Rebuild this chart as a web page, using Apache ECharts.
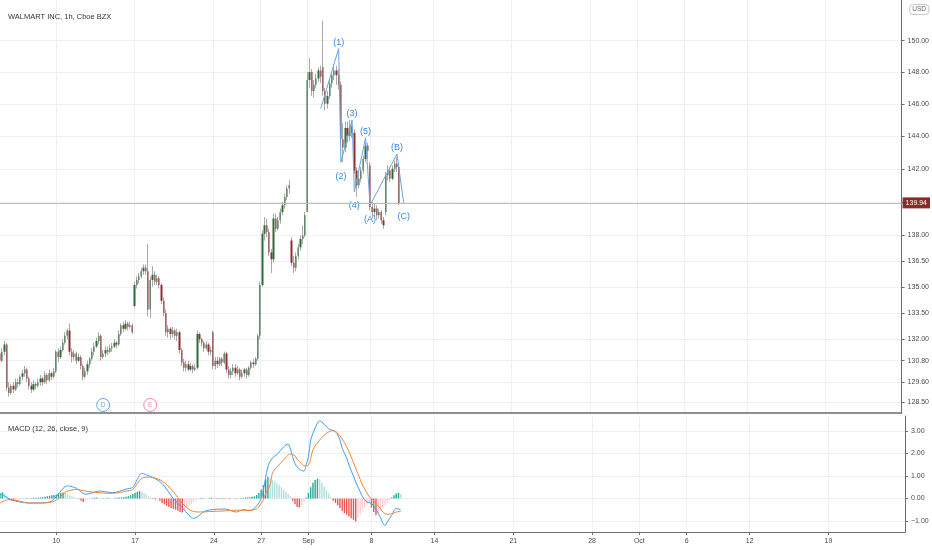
<!DOCTYPE html>
<html><head><meta charset="utf-8">
<script src="https://cdn.jsdelivr.net/npm/echarts@6/dist/echarts.min.js"></script>
<style>html,body{margin:0;padding:0;background:#fff}#c{width:932px;height:550px}</style>
</head><body><div id="c"></div>
<script>
// ---------- DATA ----------
const tradingDays = [
 '2020-08-04','2020-08-05','2020-08-06','2020-08-07','2020-08-10','2020-08-11','2020-08-12','2020-08-13','2020-08-14',
 '2020-08-17','2020-08-18','2020-08-19','2020-08-20','2020-08-21','2020-08-24','2020-08-25','2020-08-26','2020-08-27','2020-08-28',
 '2020-08-31','2020-09-01','2020-09-02','2020-09-03','2020-09-04','2020-09-08','2020-09-09','2020-09-10','2020-09-11',
 '2020-09-14','2020-09-15','2020-09-16','2020-09-17','2020-09-18','2020-09-21','2020-09-22','2020-09-23','2020-09-24','2020-09-25',
 '2020-09-28','2020-09-29','2020-09-30','2020-10-01','2020-10-02','2020-10-05','2020-10-06','2020-10-07','2020-10-08','2020-10-09',
 '2020-10-12','2020-10-13','2020-10-14','2020-10-15','2020-10-16','2020-10-19','2020-10-20','2020-10-21','2020-10-22','2020-10-23'
];
const sessionHours = ['09:30','10:30','11:30','12:30','13:30','14:30','15:30'];
const firstDayHours = ['12:30','13:30','14:30','15:30'];
const tickDates = ['2020-08-10','2020-08-17','2020-08-24','2020-08-27','2020-09-01','2020-09-08','2020-09-14','2020-09-21','2020-09-28','2020-10-01','2020-10-06','2020-10-12','2020-10-19'];
const tickTexts = ['10','17','24','27','Sep','8','14','21','28','Oct','6','12','19'];

const opens = [
 131.2,130.8,131.3,131.7,
 129.3,129.0,129.4,129.2,129.6,129.5,129.9,
 130.1,130.3,129.8,129.4,129.2,129.5,129.4,
 129.6,129.8,129.6,130.0,129.7,130.1,129.9,
 130.2,131.3,131.0,131.4,131.8,132.2,132.5,
 131.3,131.0,131.2,130.8,131.0,130.5,129.9,
 130.2,130.6,130.9,131.3,131.6,131.9,132.2,
 131.0,131.2,131.4,131.3,131.5,131.6,131.8,
 131.7,132.3,132.8,132.6,132.9,132.7,132.8,
 133.9,135.1,135.4,135.6,135.9,136.1,135.9,
 133.7,135.4,135.7,135.3,135.5,135.1,134.2,
 133.5,132.4,132.6,132.3,132.5,132.2,132.4,
 131.4,130.7,130.4,130.6,130.3,130.5,130.3,
 130.4,132.3,132.0,131.8,131.5,131.7,131.3,
 132.4,130.5,130.8,130.6,130.9,130.7,131.2,
 130.3,130.0,130.2,130.4,130.1,130.3,129.9,
 130.1,130.3,130.0,130.4,130.7,130.6,130.9,
 132.2,135.1,138.1,138.6,138.2,137.0,136.6,
 139.0,138.4,138.9,139.4,139.8,140.3,140.8,
 137.7,136.4,136.1,136.8,137.3,137.8,138.0,
 139.4,147.5,148.0,146.8,147.2,147.6,148.1,
 148.3,146.8,146.0,146.5,147.3,147.8,148.1,
 147.8,147.2,143.8,143.3,144.5,144.0,144.6,
 144.2,141.9,141.0,141.4,141.9,142.6,143.4,
 142.2,139.7,139.4,139.6,139.2,139.4,138.9,
 139.4,141.6,141.9,141.4,142.0,142.3,142.1
];
const closes = [
 130.8,131.3,131.7,129.3,
 129.0,129.4,129.2,129.6,129.5,129.9,130.1,
 130.3,129.8,129.4,129.2,129.5,129.4,129.6,
 129.8,129.6,130.0,129.7,130.1,129.9,130.2,
 131.3,131.0,131.4,131.8,132.2,132.5,131.3,
 131.0,131.2,130.8,131.0,130.5,129.9,130.2,
 130.6,130.9,131.3,131.6,131.9,132.2,131.0,
 131.2,131.4,131.3,131.5,131.6,131.8,131.7,
 132.3,132.8,132.6,132.9,132.7,132.8,132.4,
 135.1,135.4,135.6,135.9,136.1,135.9,133.7,
 135.4,135.7,135.3,135.5,135.1,134.2,133.5,
 132.4,132.6,132.3,132.5,132.2,132.4,131.4,
 130.7,130.4,130.6,130.3,130.5,130.3,130.4,
 132.3,132.0,131.8,131.5,131.7,131.3,131.4,
 130.5,130.8,130.6,130.9,130.7,131.2,130.3,
 130.0,130.2,130.4,130.1,130.3,129.9,130.1,
 130.3,130.0,130.4,130.7,130.6,130.9,132.2,
 135.1,138.1,138.6,138.2,137.0,136.6,139.0,
 138.4,138.9,139.4,139.8,140.3,140.8,141.0,
 136.4,136.1,136.8,137.3,137.8,138.0,139.2,
 147.5,148.0,146.8,147.2,147.6,148.1,147.7,
 146.8,146.0,146.5,147.3,147.8,148.1,147.8,
 147.2,143.8,143.3,144.5,144.0,144.6,144.2,
 141.9,141.0,141.4,141.9,142.6,143.4,143.1,
 139.7,139.4,139.6,139.2,139.4,138.9,138.6,
 141.6,141.9,141.4,142.0,142.3,142.1,139.94
];
const lows = [
 130.6,130.7,131.1,129.1,
 128.8,128.9,129.0,129.1,129.3,129.4,129.7,
 129.9,129.6,129.2,129.0,129.1,129.2,129.3,
 129.4,129.4,129.5,129.5,129.6,129.7,129.8,
 130.1,130.7,130.9,131.3,131.7,132.0,131.1,
 130.7,130.8,130.6,130.7,130.3,129.7,129.8,
 130.0,130.4,130.8,131.1,131.5,131.7,130.8,
 130.9,131.0,131.1,131.2,131.3,131.5,131.5,
 131.6,132.2,132.4,132.5,132.5,132.6,132.3,
 133.8,134.9,135.2,135.5,135.7,135.7,133.3,
 133.2,135.0,135.1,135.1,134.9,134.0,133.3,
 132.2,132.1,132.0,132.1,132.0,131.9,131.2,
 130.5,130.2,130.2,130.2,130.2,130.1,130.2,
 130.3,131.8,131.6,131.3,131.4,131.1,131.1,
 130.3,130.3,130.4,130.5,130.5,130.6,130.1,
 129.8,129.8,130.0,129.9,130.0,129.7,129.8,
 129.9,129.8,129.9,130.3,130.4,130.5,130.8,
 132.0,135.0,137.7,137.9,136.8,135.8,136.4,
 138.2,138.3,138.7,139.2,139.6,140.1,140.5,
 136.2,135.8,135.9,136.6,137.1,137.5,137.9,
 139.4,147.0,146.5,146.4,147.0,147.4,147.3,
 146.5,145.6,145.7,146.3,147.0,147.5,147.2,
 146.9,143.5,142.4,143.0,143.6,143.7,143.9,
 141.7,140.3,140.8,141.2,141.7,142.4,142.6,
 139.5,139.0,139.1,138.9,139.0,138.7,138.4,
 139.2,141.3,141.2,141.3,141.8,141.8,139.8
];
const highs = [
 131.4,131.5,131.9,131.8,
 129.6,129.5,129.6,129.8,129.8,130.0,130.3,
 130.5,130.4,129.9,129.6,129.7,129.6,129.8,
 130.0,129.9,130.2,130.1,130.3,130.2,130.4,
 131.4,131.5,131.6,132.0,132.4,132.6,132.9,
 131.5,131.4,131.3,131.2,131.1,130.6,130.4,
 130.8,131.0,131.5,131.8,132.1,132.4,132.3,
 131.4,131.6,131.6,131.7,131.8,132.0,131.9,
 132.5,132.9,133.0,133.1,133.0,133.0,132.9,
 135.3,135.6,135.8,136.1,136.3,136.3,137.5,
 135.6,136.2,135.9,135.7,135.6,135.2,134.4,
 133.7,132.8,132.7,132.7,132.6,132.6,132.5,
 131.5,130.9,130.8,130.8,130.7,130.6,130.6,
 132.5,132.4,132.1,131.9,131.9,131.8,131.6,
 132.5,131.0,131.0,131.0,131.0,131.3,131.3,
 130.5,130.4,130.6,130.6,130.5,130.4,130.3,
 130.4,130.4,130.5,130.8,130.9,131.0,132.3,
 135.3,138.3,139.1,139.0,138.4,137.2,139.3,
 139.3,139.1,139.6,140.0,140.5,141.0,141.3,
 137.9,136.8,137.0,137.5,138.0,138.6,139.4,
 148.0,148.9,148.2,147.5,147.9,148.3,148.4,
 151.3,147.0,146.8,147.5,148.0,148.5,148.4,
 148.2,147.4,144.8,144.9,144.9,145.0,144.9,
 144.4,142.1,141.7,142.1,142.8,143.6,143.6,
 142.4,140.0,139.9,139.8,139.6,139.5,139.1,
 141.8,142.2,142.1,142.2,142.5,142.7,142.3
];
const lastPrice = 139.94;

// MACD line and signal line, read at bar indices: [barIndex, value]
const macdPoints = [[0,0.2],[2,0.12],[4,-0.02],[8,-0.14],[13,-0.2],[17,-0.2],[22,-0.15],[25,0.08],[28,0.45],[30,0.56],[34,0.45],[38,0.19],[41,0.25],[44,0.33],[50,0.26],[56,0.42],[59,0.5],[61,0.85],[63,1.12],[65,1.05],[68,0.93],[72,0.67],[77,0.0],[81,-0.41],[84,-0.75],[86,-0.88],[88,-0.8],[90,-0.62],[93,-0.51],[100,-0.47],[105,-0.6],[108,-0.5],[111,-0.53],[114,-0.33],[116,0.0],[117,0.38],[119,1.41],[121,1.8],[123,1.95],[126,2.3],[128,2.42],[129,2.2],[131,1.56],[133,1.3],[135,1.22],[136,1.5],[137,1.86],[138,2.6],[139,2.9],[141,3.35],[142,3.45],[144,3.3],[146,3.1],[149,2.97],[151,2.6],[152,2.23],[154,1.8],[155,1.49],[157,1.0],[158,0.74],[160,0.3],[161,0.08],[163,-0.15],[165,-0.22],[167,-0.47],[169,-0.85],[171,-1.2],[172,-1.05],[174,-0.75],[176,-0.45],[178,-0.5]];
const signalPoints = [[0,-0.2],[4,-0.05],[8,-0.1],[13,-0.2],[17,-0.2],[22,-0.18],[25,-0.07],[28,0.2],[30,0.33],[34,0.4],[38,0.33],[44,0.26],[50,0.23],[56,0.33],[59,0.4],[63,0.9],[66,0.95],[68,0.93],[72,0.78],[77,0.3],[81,-0.22],[86,-0.58],[89,-0.6],[93,-0.58],[100,-0.55],[105,-0.52],[111,-0.53],[114,-0.45],[115,-0.36],[117,-0.06],[118,0.23],[120,0.6],[121,1.12],[123,1.4],[126,1.71],[129,1.98],[131,1.9],[132,1.74],[134,1.55],[135,1.45],[137,1.49],[139,2.16],[142,2.6],[145,2.9],[148,3.02],[150,2.9],[152,2.65],[154,2.3],[155,2.08],[157,1.6],[158,1.34],[160,0.85],[161,0.6],[163,0.25],[164,0.08],[166,-0.1],[167,-0.22],[169,-0.45],[170,-0.6],[172,-0.7],[174,-0.68],[176,-0.6],[178,-0.58]];
const histogram = [
 0.22,0.28,0.25,0.12,
 -0.05,-0.08,-0.1,-0.06,-0.03,
 0.01,-0.01,0.01,0.02,0.0,0.02,0.03,0.03,0.04,0.05,0.06,0.08,0.1,
 0.12,0.14,0.16,0.18,0.22,0.25,0.27,0.24,
 0.2,0.15,0.1,0.06,0.03,-0.02,
 -0.1,-0.15,-0.12,-0.06,
 -0.02,0.02,0.04,0.05,0.03,0.01,-0.02,0.01,0.03,0.02,0.01,0.02,0.03,0.04,0.05,0.06,
 0.08,0.1,0.14,0.2,0.26,0.3,0.33,0.3,0.25,0.18,0.1,
 0.04,-0.02,-0.05,-0.03,-0.1,
 -0.2,-0.26,-0.32,-0.38,-0.42,-0.46,-0.5,-0.55,-0.6,-0.62,-0.55,-0.45,-0.35,-0.25,-0.15,-0.08,-0.03,
 0.02,0.03,0.02,0.01,0.03,0.04,0.02,-0.02,-0.03,0.01,0.02,-0.02,0.01,-0.03,-0.02,0.01,0.02,0.01,0.02,0.03,0.04,0.05,0.06,0.08,0.1,0.15,
 0.25,0.4,0.6,0.85,0.97,0.9,
 0.82,0.75,0.68,0.6,0.5,0.4,0.3,0.2,0.1,
 -0.1,-0.25,-0.38,-0.4,-0.3,-0.15,
 0.05,0.25,0.5,0.7,0.82,0.88,0.86,
 0.7,0.55,0.38,0.22,0.08,
 -0.1,-0.2,-0.3,-0.42,-0.55,-0.65,-0.72,-0.8,-0.88,-0.95,-1.02,
 -0.85,-0.7,-0.55,-0.4,-0.28,-0.2,
 -0.4,-0.6,-0.75,-0.7,
 -0.55,-0.4,-0.3,-0.2,-0.08,
 0.05,0.15,0.22,0.25,0.2
];

// Elliott wave drawing
const waveIdx = [143,151,152,157,158,163,165,177,180];
const wavePrice = [145.7,149.5,142.4,145.0,140.6,143.9,139.8,142.9,139.94];
const waveLabels = ['','(1)','(2)','(3)','(4)','(5)','(A)','(B)','(C)'];

// Events (dividend / earnings)
const eventIdx = [46,67];
const eventLetters = ['D','E'];

const priceTicks = [128.5,129.6,130.8,132,133.5,135,136.5,138,140,142,144,146,148,150];
const priceLabels = [128.5,129.6,130.8,132,133.5,135,136.5,138,142,144,146,148,150];
const macdTicks = [-1,0,1,2,3];

// ---------- BUILD ----------
const categories = [];
tradingDays.forEach((d, i) => {
  (i === 0 ? firstDayHours : sessionHours).forEach(h => categories.push(d + ' ' + h));
});
const tickMap = {};
tickDates.forEach((d, i) => { tickMap[d + ' 09:30'] = tickTexts[i]; });
const isTick = (idx, val) => tickMap[val] !== undefined;

const ohlc = opens.map((o, i) => [o, closes[i], lows[i], highs[i]]);

const histData = histogram.map((v, i) => {
  const prev = i > 0 ? histogram[i - 1] : v;
  let c;
  if (v >= 0) c = v >= prev ? '#26a69a' : '#b2dfdb';
  else c = v <= prev ? '#ef5350' : '#ffcdd2';
  return { value: v, itemStyle: { color: c } };
});

const upLabels = ['(1)','(3)','(5)','(B)'];
const waveData = waveIdx.map((x, i) => ({
  value: [x, wavePrice[i]],
  label: {
    show: waveLabels[i] !== '',
    formatter: waveLabels[i],
    position: upLabels.includes(waveLabels[i]) ? 'top' : 'bottom',
    distance: upLabels.includes(waveLabels[i]) ? 1 : 9
  }
}));

const eventRowPrice = 128.34;
const eventColors = ['#3d8fe0', '#ef6f86'];
const eventData = eventIdx.map((x, i) => ({
  value: [x, eventRowPrice],
  itemStyle: { color: '#fff', borderColor: eventColors[i], borderWidth: 1 },
  label: { show: true, formatter: eventLetters[i], color: eventColors[i], fontSize: 6.5, position: 'inside' }
}));

const FONT = 'Liberation Sans';
const axisTxt = { fontSize: 7, color: '#4a4a4a', fontFamily: FONT };

const chart = echarts.init(document.getElementById('c'), null, { renderer: 'canvas' });
chart.setOption({
  animation: false,
  backgroundColor: '#fff',
  textStyle: { fontFamily: FONT },
  title: [
    { text: 'WALMART INC, 1h, Cboe BZX', left: 3, top: 8, textStyle: { fontSize: 7.5, fontWeight: 'normal', color: '#333', fontFamily: FONT } },
    { text: 'MACD (12, 26, close, 9)', left: 3, top: 420, textStyle: { fontSize: 7.5, fontWeight: 'normal', color: '#333', fontFamily: FONT } },
    { text: 'USD', right: 3, top: 4, padding: [2, 3], borderColor: '#c8c8c8', borderWidth: 1, borderRadius: 3,
      textStyle: { fontSize: 6.5, fontWeight: 'normal', color: '#666', fontFamily: FONT } }
  ],
  grid: [
    { left: 0, right: 27, top: 0, height: 413 },
    { left: 0, right: 27, top: 416, height: 116 }
  ],
  xAxis: [
    { type: 'category', gridIndex: 0, data: categories, boundaryGap: false,
      axisLine: { show: true, onZero: false, lineStyle: { color: '#6b6b6b', width: 1.5 } },
      axisTick: { show: false }, axisLabel: { show: false },
      splitLine: { show: true, interval: isTick, lineStyle: { color: '#eef0f4', width: 1 } } },
    { type: 'category', gridIndex: 1, data: categories, boundaryGap: false,
      axisLine: { show: true, onZero: false, lineStyle: { color: '#6b6b6b', width: 1 } },
      axisTick: { show: true, interval: isTick, length: 3, lineStyle: { color: '#6b6b6b' } },
      axisLabel: Object.assign({ interval: isTick, formatter: v => tickMap[v] || '', margin: 6 }, axisTxt),
      splitLine: { show: true, interval: isTick, lineStyle: { color: '#eef0f4', width: 1 } } }
  ],
  yAxis: [
    { type: 'log', gridIndex: 0, position: 'right', min: 127.9, max: 152.64, logBase: 10,
      axisLine: { show: true, lineStyle: { color: '#6b6b6b' } },
      axisTick: { show: true, customValues: priceTicks, length: 3, lineStyle: { color: '#6b6b6b' } },
      axisLabel: Object.assign({ customValues: priceLabels, formatter: v => Number(v).toFixed(2), margin: 6 }, axisTxt),
      splitLine: { show: true, lineStyle: { color: '#eef0f4' } } },
    { type: 'value', gridIndex: 1, position: 'right', min: -1.49, max: 3.67,
      axisLine: { show: true, lineStyle: { color: '#6b6b6b' } },
      axisTick: { show: true, customValues: macdTicks, length: 3, lineStyle: { color: '#6b6b6b' } },
      axisLabel: Object.assign({ customValues: macdTicks, formatter: v => (v < 0 ? '\u2212' : '') + Math.abs(v).toFixed(2), margin: 6 }, axisTxt),
      splitLine: { show: true, lineStyle: { color: '#eef0f4' } } }
  ],
  series: [
    { name: 'wick', type: 'candlestick', xAxisIndex: 0, yAxisIndex: 0, data: ohlc, barWidth: 1, silent: true,
      itemStyle: { color: '#a9a9a9', color0: '#a9a9a9', borderColor: '#a9a9a9', borderColor0: '#a9a9a9', borderWidth: 1 } },
    { name: 'body', type: 'candlestick', xAxisIndex: 0, yAxisIndex: 0, data: ohlc, barWidth: 1.8, silent: true,
      itemStyle: { color: '#2e6b3b', color0: '#8e2f2f', borderColor: '#2e6b3b', borderColor0: '#8e2f2f', borderWidth: 0 },
      markLine: { silent: true, symbol: 'none', animation: false,
        lineStyle: { color: '#bdbdbd', type: 'solid', width: 1 },
        label: { position: 'end', formatter: lastPrice.toFixed(2), backgroundColor: '#8a2b2b', color: '#fff', fontSize: 7, padding: [2, 3, 2, 3], distance: 1, fontFamily: FONT },
        data: [{ yAxis: lastPrice }] } },
    { name: 'wave', type: 'line', xAxisIndex: 0, yAxisIndex: 0, data: waveData,
      symbol: 'circle', symbolSize: 1, showSymbol: true, silent: true,
      itemStyle: { color: 'rgba(0,0,0,0)' },
      lineStyle: { color: '#6aa5de', width: 1 },
      label: { show: true, color: '#3b86d4', fontSize: 9, fontFamily: FONT } },
    { name: 'events', type: 'scatter', xAxisIndex: 0, yAxisIndex: 0, data: eventData, symbol: 'circle', symbolSize: 13, silent: true },
    { name: 'hist', type: 'bar', xAxisIndex: 1, yAxisIndex: 1, data: histData, barWidth: 1.4, silent: true },
    { name: 'MACD', type: 'line', xAxisIndex: 1, yAxisIndex: 1, data: macdPoints, symbol: 'none', smooth: 0.35, silent: true,
      lineStyle: { color: '#3f9df0', width: 1 } },
    { name: 'Signal', type: 'line', xAxisIndex: 1, yAxisIndex: 1, data: signalPoints, symbol: 'none', smooth: 0.35, silent: true,
      lineStyle: { color: '#f5862f', width: 1 } }
  ]
});
</script>
</body></html>
